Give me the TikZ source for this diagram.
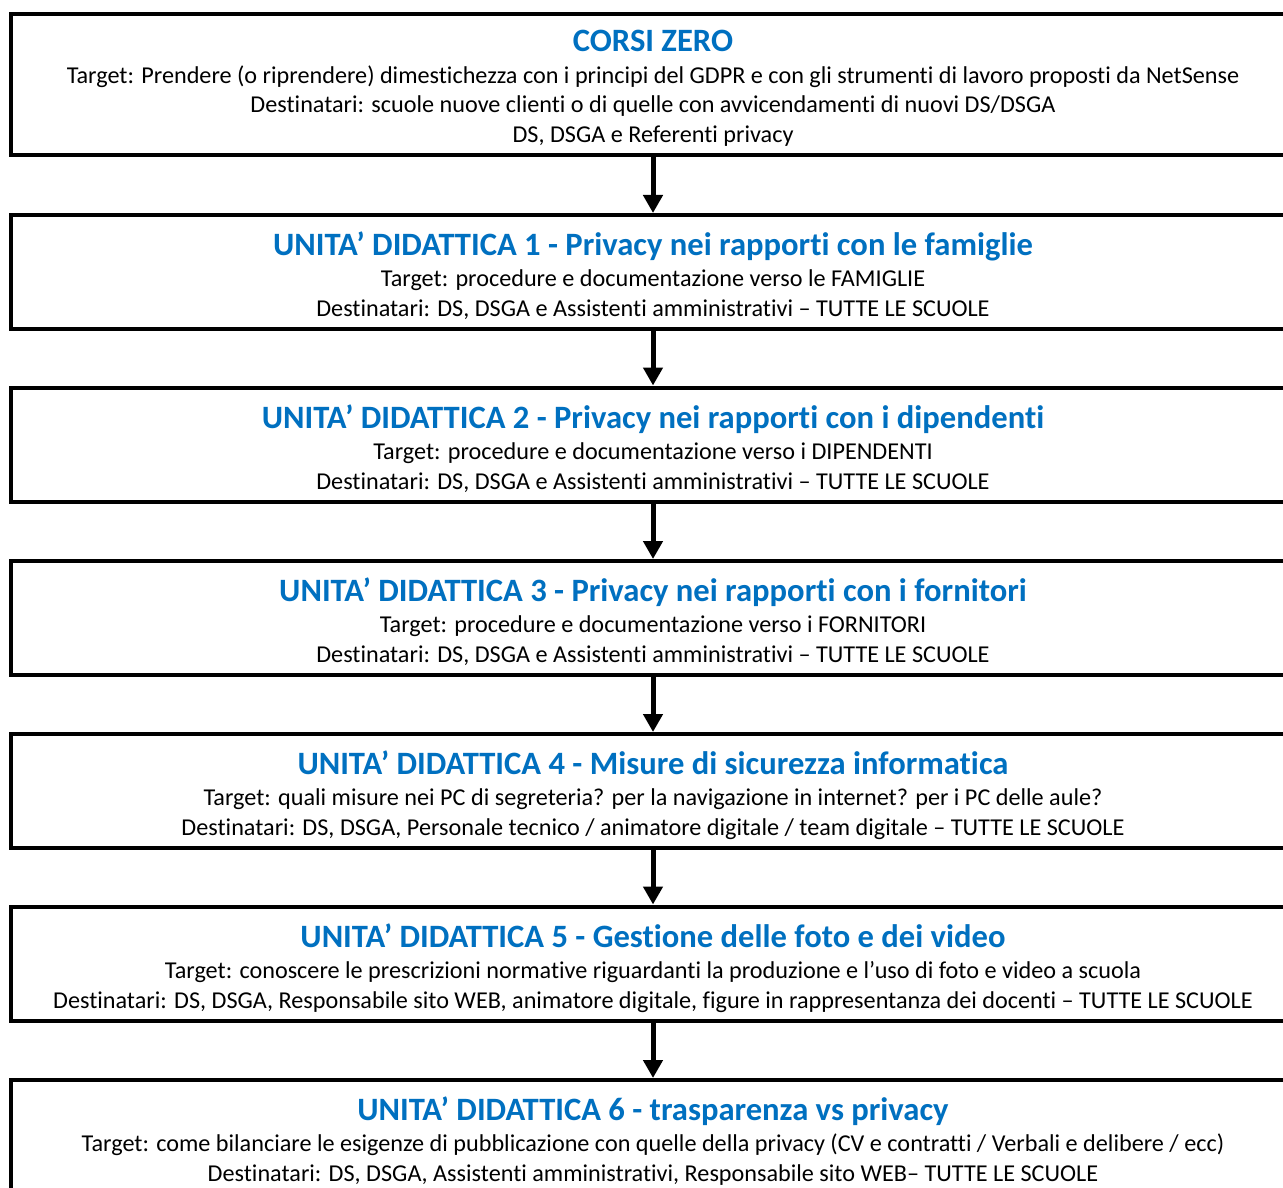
\documentclass[tikz,border=0pt]{standalone}
\usepackage{fontspec}
\setmainfont{Carlito}[Ligatures=NoCommon]
\usepackage{xcolor}
\definecolor{bleu}{RGB}{0,112,192}
\usetikzlibrary{arrows.meta,positioning}
\tikzset{
  unita/.style={rectangle, draw=black, line width=2pt, fill=white, minimum width=642pt, minimum height=57pt, inner sep=0pt},
  unita0/.style={unita, minimum height=70.5pt},
  testo/.style={anchor=north, align=center, inner sep=0pt, font=\fontsize{12.1}{14.7}\selectfont},
  line/.style={draw, line width=2.5pt, -{Triangle[length=9pt,width=9.5pt]}},
}
\newcommand{\titolo}[1]{{\fontsize{16.3}{18}\selectfont\bfseries\color{bleu}#1}}

\begin{document}
\begin{tikzpicture}[x=0.5pt, y=-0.5pt]
  \useasboundingbox (0,0) rectangle (1283,1187);

  % caselle
  \node[unita0] (k0) at (653,84.5) {};
  \node[unita] (k1) at (653,272) {};
  \node[unita] (k2) at (653,444.5) {};
  \node[unita] (k3) at (653,618) {};
  \node[unita] (k4) at (653,791) {};
  \node[unita] (k5) at (653,963.5) {};
  \node[unita] (k6) at (653,1137) {};

  % testi
  \node[testo] (t0) at (653,30) {\titolo{CORSI ZERO}\\[1.2pt]
    Target: Prendere (o riprendere) dimestichezza con i principi del GDPR e con gli strumenti di lavoro proposti da NetSense\\
    Destinatari: scuole nuove clienti o di quelle con avvicendamenti di nuovi DS/DSGA\\
    DS, DSGA e Referenti privacy};
  \node[testo] (t1) at (653,231) {\titolo{UNITA’ DIDATTICA 1 - Privacy nei rapporti con le famiglie}\\[1.2pt]
    Target: procedure e documentazione verso le FAMIGLIE\\
    Destinatari: DS, DSGA e Assistenti amministrativi – TUTTE LE SCUOLE};
  \node[testo] (t2) at (653,404) {\titolo{UNITA’ DIDATTICA 2 - Privacy nei rapporti con i dipendenti}\\[1.2pt]
    Target: procedure e documentazione verso i DIPENDENTI\\
    Destinatari: DS, DSGA e Assistenti amministrativi – TUTTE LE SCUOLE};
  \node[testo] (t3) at (653,577) {\titolo{UNITA’ DIDATTICA 3 - Privacy nei rapporti con i fornitori}\\[1.2pt]
    Target: procedure e documentazione verso i FORNITORI\\
    Destinatari: DS, DSGA e Assistenti amministrativi – TUTTE LE SCUOLE};
  \node[testo] (t4) at (653,750) {\titolo{UNITA’ DIDATTICA 4 - Misure di sicurezza informatica}\\[1.2pt]
    Target: quali misure nei PC di segreteria? per la navigazione in internet? per i PC delle aule?\\
    Destinatari: DS, DSGA, Personale tecnico / animatore digitale / team digitale – TUTTE LE SCUOLE};
  \node[testo] (t5) at (653,923) {\titolo{UNITA’ DIDATTICA 5 - Gestione delle foto e dei video}\\[1.2pt]
    Target: conoscere le prescrizioni normative riguardanti la produzione e l’uso di foto e video a scuola\\
    Destinatari: DS, DSGA, Responsabile sito WEB, animatore digitale, figure in rappresentanza dei docenti – TUTTE LE SCUOLE};
  \node[testo] (t6) at (653,1096) {\titolo{UNITA’ DIDATTICA 6 - trasparenza vs privacy}\\[1.2pt]
    Target: come bilanciare le esigenze di pubblicazione con quelle della privacy (CV e contratti / Verbali e delibere / ecc)\\
    Destinatari: DS, DSGA, Assistenti amministrativi, Responsabile sito WEB– TUTTE LE SCUOLE};

  \path[line] (k0) -- (k1);
  \path[line] (k1) -- (k2);
  \path[line] (k2) -- (k3);
  \path[line] (k3) -- (k4);
  \path[line] (k4) -- (k5);
  \path[line] (k5) -- (k6);
\end{tikzpicture}
\end{document}
